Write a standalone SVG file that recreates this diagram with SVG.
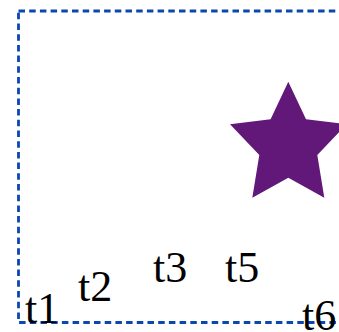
<svg xmlns="http://www.w3.org/2000/svg" width="339" height="332" viewBox="0 0 339 332">
<style>
.lbl{font-family:"Liberation Serif","Times New Roman",serif;font-size:44px;fill:#000}
</style>
<rect width="339" height="332" fill="#fff"/>
<g id="frame">
<rect x="18.5" y="11" width="340" height="311.5" fill="none" stroke="#0a47b0" stroke-width="2.8" stroke-dasharray="6.5,4.2"/>
</g>
<g id="star">
<polygon points="288.3,81.7 306,119.3 346.6,124.3 317.3,155 324.3,197.7 288.3,177.7 252.3,197.7 259.3,155 230,124.3 270.6,119.3" fill="#611879"/>
</g>
<g id="labels">
<text class="lbl" x="25" y="322.5">t1</text>
<text class="lbl" x="78" y="301">t2</text>
<text class="lbl" x="153" y="282">t3</text>
<text class="lbl" x="225" y="282">t5</text>
<text class="lbl" x="302" y="330">t6</text>
</g>
</svg>
